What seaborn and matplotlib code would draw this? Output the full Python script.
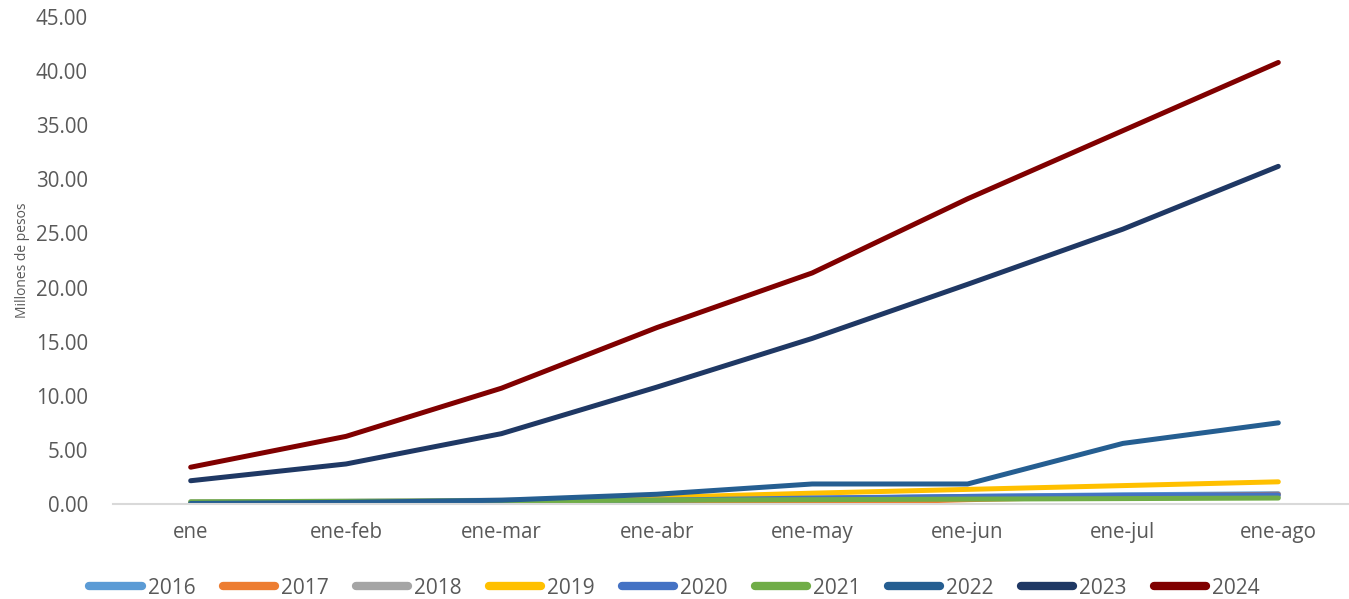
import pandas as pd
import seaborn as sns
import matplotlib.pyplot as plt
from matplotlib.ticker import FormatStrFormatter

# Data (millones de pesos, acumulado)
periodos = ['ene', 'ene-feb', 'ene-mar', 'ene-abr', 'ene-may', 'ene-jun', 'ene-jul', 'ene-ago']
anios = ['2016', '2017', '2018', '2019', '2020', '2021', '2022', '2023', '2024']

v2016 = [0.05, 0.10, 0.20, 0.35, 0.50, 0.70, 0.85, 0.95]
v2017 = [0.00, 0.00, 0.00, 0.00, 0.00, 0.40, 0.70, 0.90]
v2018 = [0.20, 0.25, 0.35, 0.45, 0.55, 0.60, 0.65, 0.70]
v2019 = [0.05, 0.10, 0.25, 0.60, 1.00, 1.35, 1.70, 2.05]
v2020 = [0.05, 0.10, 0.20, 0.35, 0.55, 0.70, 0.80, 0.85]
v2021 = [0.20, 0.25, 0.30, 0.35, 0.40, 0.45, 0.50, 0.55]
v2022 = [0.05, 0.15, 0.35, 0.90, 1.85, 1.85, 5.60, 7.50]
v2023 = [2.15, 3.70, 6.50, 10.80, 15.30, 20.30, 25.40, 31.20]
v2024 = [3.40, 6.25, 10.70, 16.30, 21.35, 28.20, 34.50, 40.80]

series = [v2016, v2017, v2018, v2019, v2020, v2021, v2022, v2023, v2024]
colores = ['#5B9BD5', '#ED7D31', '#A5A5A5', '#FFC000', '#4472C4',
           '#70AD47', '#255E91', '#1F3864', '#800000']

rows = []
for anio, vals in zip(anios, series):
    for i, v in enumerate(vals):
        rows.append({'periodo': i, 'anio': anio, 'valor': v})
df = pd.DataFrame(rows)

sns.set_theme(style="white")
plt.rcParams['font.family'] = ['Open Sans', 'DejaVu Sans']

fig = plt.figure(figsize=(13.49, 5.99), dpi=100)
ax = fig.add_axes([113 / 1349, 1 - 504 / 599, (1356 - 113) / 1349, 487 / 599])

sns.lineplot(data=df, x='periodo', y='valor', hue='anio', hue_order=anios,
             palette=dict(zip(anios, colores)), linewidth=3.6, ax=ax,
             solid_capstyle='round', solid_joinstyle='round', legend=False)

ax.set_xlim(-0.5, 7.5)
ax.set_ylim(0, 45)
ax.set_yticks(range(0, 46, 5))
ax.yaxis.set_major_formatter(FormatStrFormatter('%.2f'))
ax.set_xticks(range(len(periodos)))
ax.set_xticklabels(periodos)
ax.tick_params(axis='both', length=0, labelsize=14.8, labelcolor='#595959')
ax.tick_params(axis='x', pad=13)
ax.tick_params(axis='y', pad=18)
ax.set_xlabel('')
ax.set_ylabel('Millones de pesos', fontsize=10, color='#595959', labelpad=4)

for s in ['top', 'right', 'left']:
    ax.spines[s].set_visible(False)
ax.spines['bottom'].set_color('#D9D9D9')
ax.spines['bottom'].set_linewidth(1.5)

handles = [plt.Line2D([], [], color=c, linewidth=6, solid_capstyle='round') for c in colores]
fig.legend(handles, anios, loc='center', bbox_to_anchor=(0.5, 1 - 588 / 599), ncol=9,
           frameon=False, fontsize=15, labelcolor='#595959', handlelength=2.5,
           handletextpad=0.3, columnspacing=1.3)

fig.savefig('out.png', dpi=100)
